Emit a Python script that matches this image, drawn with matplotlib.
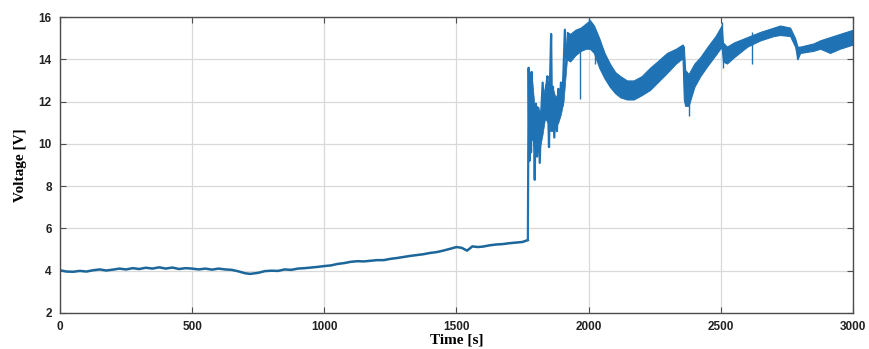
import matplotlib
matplotlib.use("Agg")
import matplotlib.pyplot as plt

# ---- data ----
# low, smooth part of the signal
t_low = [0, 25, 50, 75, 100, 125, 150, 175, 200, 225, 250, 275, 300, 325, 350, 375, 400,
         425, 450, 475, 500, 525, 550, 575, 600, 625, 650, 675, 700, 720, 750, 775, 800,
         825, 850, 875, 900, 925, 950, 975, 1000, 1025, 1050, 1075, 1100, 1125, 1150,
         1175, 1200, 1225, 1250, 1275, 1300, 1325, 1350, 1375, 1400, 1425, 1450, 1480,
         1500, 1520, 1540, 1560, 1580, 1600, 1625, 1650, 1675, 1700, 1725, 1750, 1770]
v_low = [4.02, 3.96, 3.95, 3.99, 3.96, 4.02, 4.06, 4.01, 4.05, 4.1, 4.06, 4.12, 4.08, 4.14,
         4.1, 4.16, 4.1, 4.15, 4.08, 4.12, 4.1, 4.06, 4.1, 4.05, 4.1, 4.06, 4.04, 3.97,
         3.88, 3.85, 3.9, 3.98, 4.0, 3.99, 4.06, 4.04, 4.1, 4.12, 4.15, 4.18, 4.22, 4.25,
         4.32, 4.36, 4.42, 4.45, 4.44, 4.47, 4.5, 4.5, 4.56, 4.6, 4.65, 4.7, 4.74, 4.78,
         4.84, 4.88, 4.95, 5.05, 5.12, 5.08, 4.95, 5.15, 5.12, 5.14, 5.2, 5.24, 5.26,
         5.3, 5.33, 5.36, 5.45]

# spiky transition after the jump
t_spiky = [1770, 1773, 1776, 1779, 1782, 1785, 1788, 1792, 1796, 1800, 1805, 1810, 1815,
           1820, 1826, 1832, 1838, 1844, 1850, 1853, 1858, 1861, 1865, 1870, 1875, 1880,
           1885, 1890, 1895, 1900, 1905, 1910, 1915, 1918]
v_spiky = [5.45, 13.6, 9.2, 12.8, 9.6, 13.4, 10.2, 11.8, 8.3, 11.9, 9.4, 11.7, 9.1,
           11.3, 12.9, 11.1, 12.5, 13.2, 9.85, 12.5, 15.2, 11.5, 12.7, 10.3, 12.2, 10.6,
           12.6, 11.3, 12.9, 11.8, 13.5, 15.4, 14.1, 14.6]

# envelope of the spiky transition (gives it its thickness)
t_sp_env = [1774, 1785, 1795, 1805, 1815, 1825, 1835, 1845, 1855, 1865, 1875, 1885, 1895,
            1905, 1918]
v_sp_lo = [10.0, 10.4, 9.6, 10.0, 9.8, 10.4, 11.2, 11.0, 10.6, 10.6, 10.8, 11.0, 11.4,
           12.0, 14.0]
v_sp_hi = [13.5, 13.2, 11.8, 11.8, 11.5, 12.0, 12.8, 13.0, 12.8, 12.6, 12.2, 12.5, 12.8,
           13.3, 15.2]

# high, densely oscillating part: lower / upper envelope
t_band = [1918, 1930, 1950, 1970, 1990, 2005, 2020, 2040, 2060, 2080, 2100, 2120, 2145,
          2170, 2200, 2232, 2260, 2296, 2330, 2355, 2360, 2365, 2378, 2400, 2422, 2450,
          2480, 2503, 2508, 2523, 2550, 2600, 2650, 2700, 2724, 2762, 2781, 2790, 2800,
          2850, 2876, 2913, 2950, 3000]
v_lo = [14.0, 13.9, 14.2, 14.4, 14.5, 14.5, 14.3, 13.6, 13.1, 12.7, 12.4, 12.2, 12.1,
        12.1, 12.3, 12.55, 12.9, 13.35, 13.8, 14.05, 12.1, 11.8, 11.8, 12.7, 13.2, 13.7,
        14.2, 14.6, 13.9, 13.8, 14.1, 14.6, 14.9, 15.1, 15.15, 15.1, 14.6, 14.0, 14.3,
        14.4, 14.5, 14.3, 14.5, 14.7]
v_hi = [15.3, 15.2, 15.4, 15.5, 15.7, 15.85, 15.6, 15.0, 14.3, 13.8, 13.4, 13.2, 13.0,
        13.0, 13.2, 13.6, 13.9, 14.3, 14.5, 14.7, 14.6, 13.5, 13.3, 13.8, 14.1, 14.6,
        15.1, 15.6, 14.8, 14.6, 14.8, 15.05, 15.3, 15.5, 15.6, 15.5, 15.0, 14.6, 14.6,
        14.75, 14.9, 15.05, 15.2, 15.4]

# isolated thin spikes
spike_t = [1967, 2000, 2025, 2378, 2505, 2510, 2618, 2788]
spike_lo = [12.1, 14.8, 13.8, 11.3, 14.5, 13.6, 13.8, 14.0]
spike_hi = [14.8, 15.95, 15.0, 13.0, 15.75, 14.6, 15.3, 14.6]

x_ticks = [0, 500, 1000, 1500, 2000, 2500, 3000]
y_ticks = [2, 4, 6, 8, 10, 12, 14, 16]

# ---- plot ----
color = "#1f72b4"
fig = plt.figure(figsize=(8.69, 3.49), dpi=100)
ax = fig.add_axes([0.069, 0.1032, 0.9126, 0.848])

ax.plot(t_low, v_low, color="#1c6699", lw=1.8, solid_joinstyle="round")
ax.fill_between(t_sp_env, v_sp_lo, v_sp_hi, color=color, lw=0.5, edgecolor=color)
ax.plot(t_spiky, v_spiky, color=color, lw=1.6)
ax.fill_between(t_band, v_lo, v_hi, color=color, lw=0.8, edgecolor=color)
ax.vlines(spike_t, spike_lo, spike_hi, color=color, lw=1.0)

ax.set_xlim(0, 3000)
ax.set_ylim(2, 16)
ax.set_xticks(x_ticks)
ax.set_yticks(y_ticks)
ax.grid(True, color="#d9d9d9", lw=0.9)
ax.set_axisbelow(True)
for s in ax.spines.values():
    s.set_color("#4d4d4d")
    s.set_linewidth(1.0)
ax.tick_params(direction="in", top=True, right=True, length=4, color="#4d4d4d",
               labelsize=8.5, pad=6)
for lab in ax.get_xticklabels() + ax.get_yticklabels():
    lab.set_fontfamily("Liberation Sans")
    lab.set_fontweight("bold")
    lab.set_color("#222222")

ax.set_xlabel("Time [s]", fontfamily="Liberation Serif", fontweight="bold",
              fontsize=11, labelpad=0)
ax.set_ylabel("Voltage [V]", fontfamily="Liberation Serif", fontweight="bold",
              fontsize=11, labelpad=8)

fig.savefig("out.png", dpi=100)
